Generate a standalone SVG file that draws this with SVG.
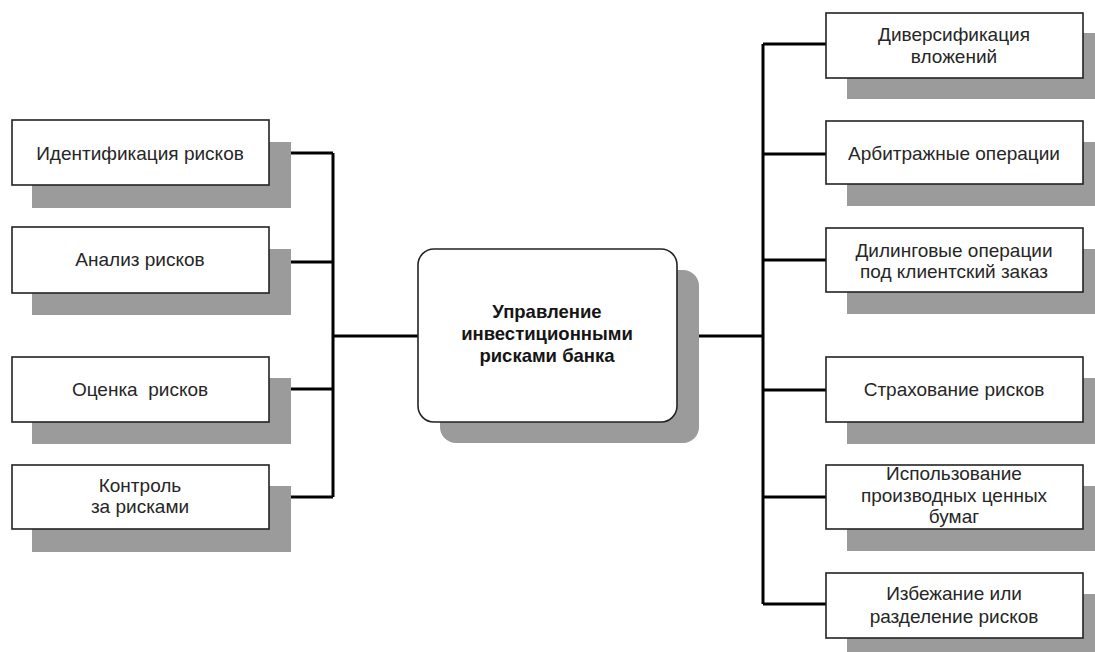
<svg xmlns="http://www.w3.org/2000/svg" width="1095" height="652" viewBox="0 0 1095 652">
  <style>
    .shadow { fill: #9b9b9b; }
    .box { fill: #ffffff; stroke: #222222; stroke-width: 1.6; }
    .lbl { font-family: "Liberation Sans", Arial, sans-serif; font-size: 19px; fill: #262626; text-anchor: middle; }
    .title { font-family: "Liberation Sans", Arial, sans-serif; font-size: 18.5px; font-weight: bold; fill: #151515; text-anchor: middle; }
    .link { fill: none; stroke: #000000; stroke-width: 3; }
  </style>
  <rect width="1095" height="652" fill="#ffffff"/>

  <!-- connectors -->
  <g id="connectors" class="link">
    <path d="M333 153 V497 M269 153 H333 M269 262 H333 M269 389 H333 M269 497 H333 M333 336 H418"/>
    <path d="M763 44 V604 M677 336 H763 M763 44 H826 M763 154 H826 M763 260 H826 M763 390 H826 M763 497 H826 M763 604 H826"/>
  </g>

  <!-- center -->
  <g id="center">
    <rect class="shadow" x="440" y="270" width="259" height="173" rx="16"/>
    <rect class="box" x="418" y="249" width="259" height="173" rx="16"/>
    <text class="title" x="547" y="318">Управление</text>
    <text class="title" x="547" y="340">инвестиционными</text>
    <text class="title" x="547" y="362">рисками банка</text>
  </g>

  <!-- left column -->
  <g id="identification">
    <rect class="shadow" x="32" y="142" width="259" height="66"/>
    <rect class="box" x="12" y="120" width="257" height="65"/>
    <text class="lbl" x="140" y="160">Идентификация рисков</text>
  </g>
  <g id="analysis">
    <rect class="shadow" x="32" y="249" width="259" height="66"/>
    <rect class="box" x="12" y="227" width="257" height="66"/>
    <text class="lbl" x="140" y="266">Анализ рисков</text>
  </g>
  <g id="assessment">
    <rect class="shadow" x="32" y="378" width="259" height="66"/>
    <rect class="box" x="12" y="357" width="257" height="65"/>
    <text class="lbl" x="140" y="396" style="white-space:pre">Оценка  рисков</text>
  </g>
  <g id="control">
    <rect class="shadow" x="32" y="486" width="259" height="66"/>
    <rect class="box" x="12" y="465" width="257" height="64"/>
    <text class="lbl" x="140" y="492">Контроль</text>
    <text class="lbl" x="140" y="513">за рисками</text>
  </g>

  <!-- right column -->
  <g id="diversification">
    <rect class="shadow" x="847" y="33" width="260" height="66"/>
    <rect class="box" x="826" y="13" width="257" height="65"/>
    <text class="lbl" x="954" y="41">Диверсификация</text>
    <text class="lbl" x="954" y="63">вложений</text>
  </g>
  <g id="arbitrage">
    <rect class="shadow" x="847" y="142" width="260" height="64"/>
    <rect class="box" x="826" y="121" width="257" height="63"/>
    <text class="lbl" x="954" y="160">Арбитражные операции</text>
  </g>
  <g id="dealing">
    <rect class="shadow" x="847" y="249" width="260" height="65"/>
    <rect class="box" x="826" y="228" width="257" height="64"/>
    <text class="lbl" x="954" y="257">Дилинговые операции</text>
    <text class="lbl" x="954" y="278">под клиентский заказ</text>
  </g>
  <g id="insurance">
    <rect class="shadow" x="847" y="378" width="260" height="66"/>
    <rect class="box" x="826" y="357" width="257" height="65"/>
    <text class="lbl" x="954" y="396">Страхование рисков</text>
  </g>
  <g id="derivatives">
    <rect class="shadow" x="847" y="486" width="260" height="65"/>
    <rect class="box" x="826" y="465" width="257" height="64"/>
    <text class="lbl" x="954" y="480">Использование</text>
    <text class="lbl" x="954" y="502">производных ценных</text>
    <text class="lbl" x="954" y="523">бумаг</text>
  </g>
  <g id="avoidance">
    <rect class="shadow" x="847" y="594" width="260" height="66"/>
    <rect class="box" x="826" y="573" width="257" height="65"/>
    <text class="lbl" x="954" y="600">Избежание или</text>
    <text class="lbl" x="954" y="623">разделение рисков</text>
  </g>
</svg>
